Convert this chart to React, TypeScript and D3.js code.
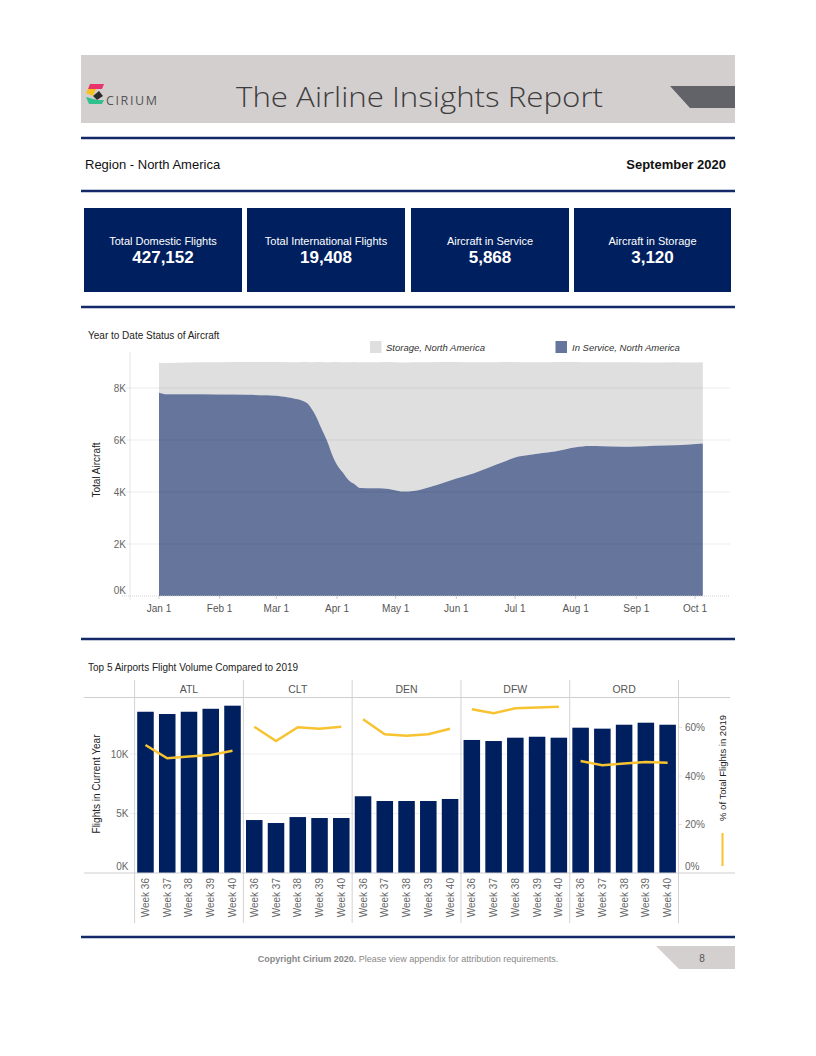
import React from "react";
import * as d3 from "d3";

// ---------- data ----------
const kpiLabels = ["Total Domestic Flights", "Total International Flights", "Aircraft in Service", "Aircraft in Storage"];
const kpiValues = [427152, 19408, 5868, 3120];

const fleetDates = [
  "2020-01-01", "2020-01-05", "2020-01-15", "2020-02-01", "2020-02-15", "2020-02-25", "2020-03-01",
  "2020-03-05", "2020-03-10", "2020-03-14", "2020-03-17", "2020-03-19", "2020-03-21", "2020-03-24",
  "2020-03-27", "2020-03-30", "2020-04-01", "2020-04-04", "2020-04-07", "2020-04-10", "2020-04-13",
  "2020-04-20", "2020-04-25", "2020-04-30", "2020-05-05", "2020-05-10", "2020-05-15", "2020-05-22",
  "2020-06-01", "2020-06-10", "2020-06-18", "2020-06-25", "2020-07-01", "2020-07-08", "2020-07-15",
  "2020-07-22", "2020-08-01", "2020-08-08", "2020-08-15", "2020-08-25", "2020-09-01", "2020-09-10",
  "2020-09-20", "2020-09-28", "2020-10-05",
];
const inService = [
  7820, 7760, 7760, 7750, 7740, 7720, 7700,
  7660, 7600, 7520, 7400, 7200, 6950, 6450,
  5950, 5350, 5050, 4750, 4450, 4300, 4150,
  4140, 4130, 4080, 4020, 4040, 4120, 4270,
  4520, 4720, 4950, 5150, 5330, 5420, 5500,
  5570, 5720, 5770, 5760, 5740, 5750, 5780,
  5800, 5830, 5868,
];
const totalFleet = [
  8970, 8960, 8980, 8990, 9000, 9000, 9000,
  9000, 8990, 9000, 9000, 8990, 9000, 9000,
  8990, 9000, 9000, 8990, 8990, 9000, 8990,
  8990, 9000, 8990, 8980, 8990, 8990, 9000,
  9000, 8990, 8990, 9000, 9000, 8990, 8990,
  9000, 9000, 8990, 8990, 8990, 8990, 8980,
  8990, 8980, 8988,
];
const fleetTicks = [0, 2000, 4000, 6000, 8000];

const airports = ["ATL", "CLT", "DEN", "DFW", "ORD"];
const weeks = ["Week 36", "Week 37", "Week 38", "Week 39", "Week 40"];
const flightsATL = [13550, 13360, 13550, 13800, 14060];
const flightsCLT = [4450, 4200, 4700, 4620, 4620];
const flightsDEN = [6450, 6050, 6050, 6050, 6220];
const flightsDFW = [11180, 11090, 11370, 11450, 11370];
const flightsORD = [12210, 12130, 12460, 12630, 12460];
const pctATL = [52.8, 47.3, 48.0, 48.7, 50.4];
const pctCLT = [60.3, 54.4, 60.1, 59.5, 60.3];
const pctDEN = [63.4, 57.2, 56.6, 57.2, 59.5];
const pctDFW = [67.5, 65.9, 67.9, 68.2, 68.6];
const pctORD = [46.2, 44.4, 45.2, 45.8, 45.5];
const flightTicks = [0, 5000, 10000];
const pctTicks = [0, 20, 40, 60];

// ---------- styles ----------
const FONT = "'Liberation Sans', Arial, sans-serif";
const NAVY = "#001f5f";
const RULE = "#14296a";

export default function App() {
  const flights = [flightsATL, flightsCLT, flightsDEN, flightsDFW, flightsORD];
  const pcts = [pctATL, pctCLT, pctDEN, pctDFW, pctORD];

  // area chart scales
  const parse = d3.utcParse("%Y-%m-%d");
  const fleet = fleetDates.map((d, i) => ({ date: parse(d) as Date, service: inService[i], total: totalFleet[i] }));
  const x = d3.scaleUtc().domain([parse("2020-01-01") as Date, parse("2020-10-01") as Date]).range([159, 695]);
  const y = d3.scaleLinear().domain([0, 8000]).range([596, 388]);
  const monthTicks = d3.utcMonth.range(parse("2020-01-01") as Date, parse("2020-10-02") as Date);
  const fmtMonth = d3.utcFormat("%b %-d");
  const areaService = d3.area<any>().x((d) => x(d.date)).y0(y(0)).y1((d) => y(d.service)).curve(d3.curveMonotoneX);
  const areaStorage = d3.area<any>().x((d) => x(d.date)).y0((d) => y(d.service)).y1((d) => y(d.total)).curve(d3.curveMonotoneX);

  // bar chart scales
  const panel = d3.scaleBand().domain(airports).range([134.6, 678.5]);
  const wk = d3.scaleBand().domain(weeks).range([0, panel.bandwidth()]).paddingInner(0.24).paddingOuter(0.12);
  const yb = d3.scaleLinear().domain([0, 10000]).range([873, 754]);
  const yp = d3.scaleLinear().domain([0, 60]).range([873, 727.5]);
  const line = d3.line<number>().x((_, i) => (wk(weeks[i]) as number) + wk.bandwidth() / 2).y((v) => yp(v));

  const boxes = [[84, 242], [247, 405], [411, 569], [574, 731]];
  const rules = [138, 191, 307, 639, 937];

  return (
    <svg width={816} height={1056} style={{ position: "absolute", left: 0, top: 0 }} fontFamily={FONT}>
      <rect width={816} height={1056} fill="#fff" />
      {/* header */}
      <rect x={81} y={55} width={654} height={68} fill="#d4cfcf" />
      <polygon points="670,86 735,86 735,108 690,108" fill="#626269" />
      <g>
        <polygon points="90,84 104,84 102,89 88,89" fill="#e8336b" />
        <polygon points="88,89 96,89 93,96 86,93" fill="#f6c21c" />
        <polygon points="93,96 99,91 103,96 97,100" fill="#2c2c2c" />
        <polygon points="86,97 97,100 104,100 102,104 89,104" fill="#2fc08c" />
        <text x={106} y={105} fontSize={12.5} fill="#555" letterSpacing={1.6} fontFamily="'Open Sans', sans-serif">CIRIUM</text>
      </g>
      <text x={236} y={107} fontSize={27} fill="#3d3d3d" fontWeight={300} fontFamily="'Open Sans', sans-serif" textLength={367} lengthAdjust="spacingAndGlyphs">
        The Airline Insights Report
      </text>

      {rules.map((r) => (
        <line key={r} x1={81} x2={735} y1={r} y2={r} stroke={RULE} strokeWidth={2.5} />
      ))}

      <text x={85} y={168.5} fontSize={13} fill="#111">Region - North America</text>
      <text x={726} y={168.5} fontSize={13} fill="#111" fontWeight="bold" textAnchor="end">September 2020</text>

      {/* KPI boxes */}
      {boxes.map(([a, b], i) => (
        <g key={i}>
          <rect x={a} y={208} width={b - a} height={84} fill={NAVY} />
          <text x={(a + b) / 2} y={245} fontSize={11} fill="#fff" textAnchor="middle">{kpiLabels[i]}</text>
          <text x={(a + b) / 2} y={263} fontSize={17} fill="#fff" fontWeight="bold" textAnchor="middle">{d3.format(",")(kpiValues[i])}</text>
        </g>
      ))}

      {/* area chart */}
      <text x={88} y={339} fontSize={10} fill="#222">Year to Date Status of Aircraft</text>
      <rect x={370} y={341} width={11.5} height={12} fill="#e0dfe0" />
      <text x={386} y={350.5} fontSize={9.5} fill="#333" fontStyle="italic">Storage, North America</text>
      <rect x={555.5} y={341} width={11.5} height={12} fill="#65759c" />
      <text x={572} y={350.5} fontSize={9.5} fill="#333" fontStyle="italic">In Service, North America</text>

      <line x1={130} x2={130} y1={352} y2={600} stroke="#e6e6e6" />
      <path d={areaStorage(fleet) as string} fill="#e0dfe0" />
      <path d={areaService(fleet) as string} fill="#65759c" />
      {fleetTicks.map((t) => (
        <g key={t}>
          {t > 0 && <line x1={122} x2={730} y1={y(t)} y2={y(t)} stroke="#000" strokeOpacity={0.07} />}
          <text x={126} y={t === 0 ? y(t) - 2 : y(t) + 3.5} fontSize={10} fill="#666" textAnchor="end">{`${t / 1000}K`}</text>
        </g>
      ))}
      <line x1={122} x2={730} y1={y(0)} y2={y(0)} stroke="#d0d0d0" strokeDasharray="1,1" />
      {monthTicks.map((m) => (
        <g key={m.toISOString()}>
          <line x1={x(m)} x2={x(m)} y1={y(0)} y2={y(0) + 3} stroke="#ccc" />
          <text x={x(m)} y={612} fontSize={10} fill="#555" textAnchor="middle">{fmtMonth(m)}</text>
        </g>
      ))}
      <text transform="translate(100,470) rotate(-90)" fontSize={10} fill="#222" textAnchor="middle">Total Aircraft</text>

      {/* bar chart */}
      <text x={88} y={671} fontSize={10} fill="#222">Top 5 Airports Flight Volume Compared to 2019</text>
      <line x1={84} x2={730} y1={697.5} y2={697.5} stroke="#cfcfcf" />
      {flightTicks.map((t) => (
        <g key={t}>
          {t > 0 && <line x1={130} x2={678.5} y1={yb(t)} y2={yb(t)} stroke="#eeeeee" />}
          <text x={128.5} y={t === 0 ? yb(t) - 3 : yb(t) + 3.5} fontSize={10} fill="#666" textAnchor="end">{`${t / 1000}K`}</text>
        </g>
      ))}
      {pctTicks.map((t) => (
        <g key={t}>
          {t > 0 && <line x1={678.5} x2={682} y1={yp(t)} y2={yp(t)} stroke="#e4e4e4" />}
          <text x={685} y={t === 0 ? yp(t) - 3 : yp(t) + 3.5} fontSize={10} fill="#666">{`${t}%`}</text>
        </g>
      ))}
      {airports.map((a, i) => {
        const px = panel(a) as number;
        return (
          <g key={a}>
            <text x={px + panel.bandwidth() / 2} y={693} fontSize={10.5} fill="#555" textAnchor="middle">{a}</text>
            {flights[i].map((v, j) => (
              <rect key={j} x={px + (wk(weeks[j]) as number)} y={yb(v)} width={wk.bandwidth()} height={yb(0) - yb(v)} fill={NAVY} />
            ))}
            <path d={line(pcts[i]) as string} transform={`translate(${px},0)`} fill="none" stroke="#f7c331" strokeWidth={2.5} />
            {weeks.map((w) => (
              <text key={w} transform={`translate(${px + (wk(w) as number) + wk.bandwidth() / 2 + 3.5},878) rotate(-90)`} fontSize={10} fill="#666" textAnchor="end">{w}</text>
            ))}
          </g>
        );
      })}
      {[...airports.map((a) => panel(a) as number), 678.5].map((sx, i) => (
        <line key={i} x1={sx} x2={sx} y1={680} y2={923} stroke="#d2d2d2" />
      ))}
      <line x1={84} x2={735} y1={873} y2={873} stroke="#cfcfcf" />
      <text transform="translate(100,784) rotate(-90)" fontSize={10} fill="#222" textAnchor="middle">Flights in Current Year</text>
      <text transform="translate(726,768) rotate(-90)" fontSize={9.5} fill="#222" textAnchor="middle">% of Total Flights in 2019</text>
      <line x1={722.5} x2={722.5} y1={833} y2={866} stroke="#f7c331" strokeWidth={2} />

      {/* footer */}
      <polygon points="656,946 735,946 735,969 679,969" fill="#d4d0d0" />
      <text x={702} y={962} fontSize={10} fill="#555" textAnchor="middle">8</text>
      <text x={408} y={962} fontSize={9} fill="#888" textAnchor="middle">
        <tspan fontWeight="bold">Copyright Cirium 2020.</tspan> Please view appendix for attribution requirements.
      </text>
    </svg>
  );
}
